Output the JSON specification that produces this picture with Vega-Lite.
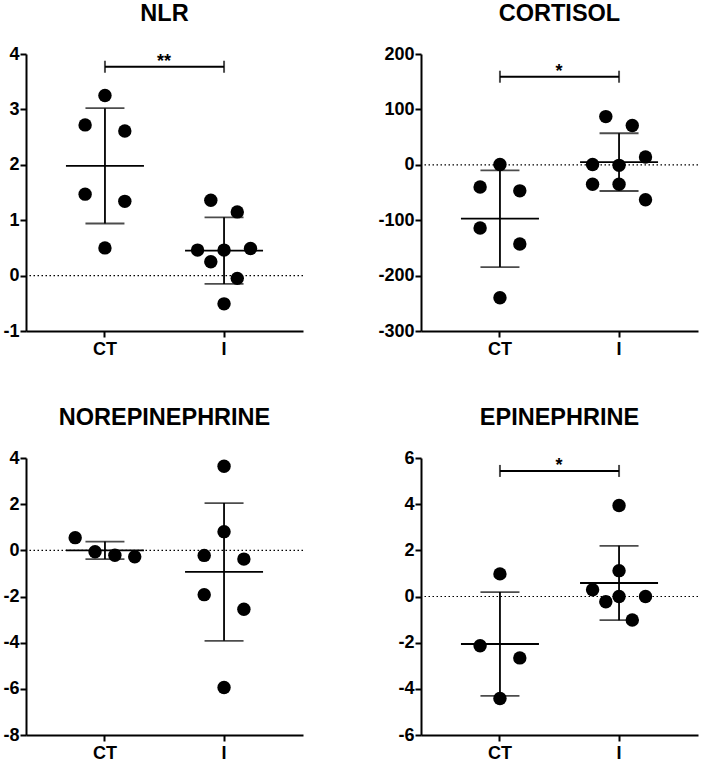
{
  "$schema": "https://vega.github.io/schema/vega-lite/v6.json",
  "padding": {"left": 2, "top": 1, "right": 5, "bottom": 5},
  "datasets": {
    "points": [
      {"panel": "NLR", "group": "CT", "value": 3.25, "slot": 0},
      {"panel": "NLR", "group": "CT", "value": 2.72, "slot": -6},
      {"panel": "NLR", "group": "CT", "value": 2.61, "slot": 6},
      {"panel": "NLR", "group": "CT", "value": 1.47, "slot": -6},
      {"panel": "NLR", "group": "CT", "value": 1.34, "slot": 6},
      {"panel": "NLR", "group": "CT", "value": 0.5, "slot": 0},
      {"panel": "NLR", "group": "I", "value": 1.36, "slot": -4},
      {"panel": "NLR", "group": "I", "value": 1.15, "slot": 4},
      {"panel": "NLR", "group": "I", "value": 0.46, "slot": -8},
      {"panel": "NLR", "group": "I", "value": 0.46, "slot": 0},
      {"panel": "NLR", "group": "I", "value": 0.49, "slot": 8},
      {"panel": "NLR", "group": "I", "value": 0.25, "slot": -4},
      {"panel": "NLR", "group": "I", "value": -0.05, "slot": 4},
      {"panel": "NLR", "group": "I", "value": -0.51, "slot": 0},
      {"panel": "CORTISOL", "group": "CT", "value": 0.5, "slot": 0},
      {"panel": "CORTISOL", "group": "CT", "value": -40, "slot": -6},
      {"panel": "CORTISOL", "group": "CT", "value": -47, "slot": 6},
      {"panel": "CORTISOL", "group": "CT", "value": -114, "slot": -6},
      {"panel": "CORTISOL", "group": "CT", "value": -143, "slot": 6},
      {"panel": "CORTISOL", "group": "CT", "value": -240, "slot": 0},
      {"panel": "CORTISOL", "group": "I", "value": 87, "slot": -4},
      {"panel": "CORTISOL", "group": "I", "value": 71, "slot": 4},
      {"panel": "CORTISOL", "group": "I", "value": 0.6, "slot": -8},
      {"panel": "CORTISOL", "group": "I", "value": -1, "slot": 0},
      {"panel": "CORTISOL", "group": "I", "value": 14, "slot": 8},
      {"panel": "CORTISOL", "group": "I", "value": -35, "slot": -8},
      {"panel": "CORTISOL", "group": "I", "value": -35, "slot": 0},
      {"panel": "CORTISOL", "group": "I", "value": -63, "slot": 8},
      {"panel": "NOREPINEPHRINE", "group": "CT", "value": 0.55, "slot": -9},
      {"panel": "NOREPINEPHRINE", "group": "CT", "value": -0.06, "slot": -3},
      {"panel": "NOREPINEPHRINE", "group": "CT", "value": -0.21, "slot": 3},
      {"panel": "NOREPINEPHRINE", "group": "CT", "value": -0.28, "slot": 9},
      {"panel": "NOREPINEPHRINE", "group": "I", "value": 3.64, "slot": 0},
      {"panel": "NOREPINEPHRINE", "group": "I", "value": 0.81, "slot": 0},
      {"panel": "NOREPINEPHRINE", "group": "I", "value": -0.22, "slot": -6},
      {"panel": "NOREPINEPHRINE", "group": "I", "value": -0.38, "slot": 6},
      {"panel": "NOREPINEPHRINE", "group": "I", "value": -1.92, "slot": -6},
      {"panel": "NOREPINEPHRINE", "group": "I", "value": -2.55, "slot": 6},
      {"panel": "NOREPINEPHRINE", "group": "I", "value": -5.94, "slot": 0},
      {"panel": "EPINEPHRINE", "group": "CT", "value": 0.98, "slot": 0},
      {"panel": "EPINEPHRINE", "group": "CT", "value": -2.13, "slot": -6},
      {"panel": "EPINEPHRINE", "group": "CT", "value": -2.66, "slot": 6},
      {"panel": "EPINEPHRINE", "group": "CT", "value": -4.42, "slot": 0},
      {"panel": "EPINEPHRINE", "group": "I", "value": 3.94, "slot": 0},
      {"panel": "EPINEPHRINE", "group": "I", "value": 1.12, "slot": 0},
      {"panel": "EPINEPHRINE", "group": "I", "value": 0.29, "slot": -8},
      {"panel": "EPINEPHRINE", "group": "I", "value": -0.23, "slot": -4},
      {"panel": "EPINEPHRINE", "group": "I", "value": 0.0, "slot": 0},
      {"panel": "EPINEPHRINE", "group": "I", "value": 0.0, "slot": 8},
      {"panel": "EPINEPHRINE", "group": "I", "value": -1.02, "slot": 4}
    ],
    "brackets": [
      {"panel": "NLR", "from": "CT", "to": "I", "y": 3.77, "label": "**"},
      {"panel": "CORTISOL", "from": "CT", "to": "I", "y": 159, "label": "*"},
      {"panel": "EPINEPHRINE", "from": "CT", "to": "I", "y": 5.44, "label": "*"}
    ],
    "ref": [{"ref": 0}]
  },
  "config": {
    "view": {"stroke": null},
    "font": "Liberation Sans",
    "title": {"font": "Liberation Sans", "fontSize": 23.5, "fontWeight": "bold", "color": "black", "frame": "group", "anchor": "middle", "offset": 20},
    "axis": {
      "grid": false, "title": null,
      "domainColor": "black", "domainWidth": 2,
      "tickColor": "black", "tickWidth": 2, "tickSize": 6,
      "labelFont": "Liberation Sans", "labelFontWeight": "bold", "labelFontSize": 18, "labelColor": "black"
    },
    "axisX": {"labelAngle": 0, "labelPadding": 3},
    "axisY": {"labelPadding": 1, "labelExpr": "datum.value < 0 ? '-' + abs(datum.value) : '' + datum.value"}
  },
  "columns": 2,
  "spacing": {"column": 73, "row": 47},
  "concat": [
    {
      "title": "NLR",
      "width": 277, "height": 277,
      "layer": [
        {
          "data": {"name": "ref"},
          "mark": {"type": "rule", "strokeDash": [1.5, 2.5], "strokeWidth": 1.2, "color": "black"},
          "encoding": {"y": {"field": "ref", "type": "quantitative", "title": null}}
        },
        {
          "data": {"name": "points"},
          "transform": [{"filter": "datum.panel == 'NLR'"}],
          "mark": {"type": "errorbar", "extent": "stdev", "ticks": {"size": 39}, "thickness": 1.8, "color": "black"},
          "encoding": {
            "x": {"field": "group", "type": "nominal", "title": null, "scale": {"domain": ["CT", "I"], "paddingInner": 0, "paddingOuter": 0.163}},
            "y": {"field": "value", "type": "quantitative", "title": null, "scale": {"domain": [-1, 4], "nice": false, "zero": false}, "axis": {"values": [-1, 0, 1, 2, 3, 4]}}
          }
        },
        {
          "data": {"name": "points"},
          "transform": [{"filter": "datum.panel == 'NLR'"}],
          "mark": {"type": "tick", "size": 78, "thickness": 1.8, "color": "black"},
          "encoding": {
            "x": {"field": "group", "type": "nominal", "title": null},
            "y": {"aggregate": "mean", "field": "value", "type": "quantitative", "title": null}
          }
        },
        {
          "data": {"name": "points"},
          "transform": [{"filter": "datum.panel == 'NLR'"}],
          "mark": {"type": "circle", "size": 180, "opacity": 1, "color": "black"},
          "encoding": {
            "x": {"field": "group", "type": "nominal", "title": null},
            "xOffset": {"field": "slot", "type": "quantitative", "scale": {"domain": [-18, 18]}},
            "y": {"field": "value", "type": "quantitative", "title": null}
          }
        },
        {
          "data": {"name": "brackets"},
          "transform": [{"filter": "datum.panel == 'NLR'"}],
          "mark": {"type": "rule", "strokeWidth": 2, "color": "black"},
          "encoding": {
            "x": {"field": "from", "type": "nominal", "title": null},
            "x2": {"field": "to"},
            "y": {"field": "y", "type": "quantitative", "title": null}
          }
        },
        {
          "data": {"name": "brackets"},
          "transform": [{"filter": "datum.panel == 'NLR'"}],
          "mark": {"type": "tick", "orient": "vertical", "size": 12, "thickness": 2, "color": "black"},
          "encoding": {"x": {"field": "from", "type": "nominal", "title": null}, "y": {"field": "y", "type": "quantitative", "title": null}}
        },
        {
          "data": {"name": "brackets"},
          "transform": [{"filter": "datum.panel == 'NLR'"}],
          "mark": {"type": "tick", "orient": "vertical", "size": 12, "thickness": 2, "color": "black"},
          "encoding": {"x": {"field": "to", "type": "nominal", "title": null}, "y": {"field": "y", "type": "quantitative", "title": null}}
        },
        {
          "data": {"name": "brackets"},
          "transform": [{"filter": "datum.panel == 'NLR'"}],
          "mark": {"type": "text", "dx": 59, "dy": 0, "baseline": "alphabetic", "fontSize": 18, "fontWeight": "bold", "color": "black"},
          "encoding": {"x": {"field": "from", "type": "nominal", "title": null}, "y": {"field": "y", "type": "quantitative", "title": null}, "text": {"field": "label"}}
        }
      ]
    },
    {
      "title": "CORTISOL",
      "width": 277, "height": 277,
      "layer": [
        {
          "data": {"name": "ref"},
          "mark": {"type": "rule", "strokeDash": [1.5, 2.5], "strokeWidth": 1.2, "color": "black"},
          "encoding": {"y": {"field": "ref", "type": "quantitative", "title": null}}
        },
        {
          "data": {"name": "points"},
          "transform": [{"filter": "datum.panel == 'CORTISOL'"}],
          "mark": {"type": "errorbar", "extent": "stdev", "ticks": {"size": 39}, "thickness": 1.8, "color": "black"},
          "encoding": {
            "x": {"field": "group", "type": "nominal", "title": null, "scale": {"domain": ["CT", "I"], "paddingInner": 0, "paddingOuter": 0.163}},
            "y": {"field": "value", "type": "quantitative", "title": null, "scale": {"domain": [-300, 200], "nice": false, "zero": false}, "axis": {"values": [-300, -200, -100, 0, 100, 200]}}
          }
        },
        {
          "data": {"name": "points"},
          "transform": [{"filter": "datum.panel == 'CORTISOL'"}],
          "mark": {"type": "tick", "size": 78, "thickness": 1.8, "color": "black"},
          "encoding": {
            "x": {"field": "group", "type": "nominal", "title": null},
            "y": {"aggregate": "mean", "field": "value", "type": "quantitative", "title": null}
          }
        },
        {
          "data": {"name": "points"},
          "transform": [{"filter": "datum.panel == 'CORTISOL'"}],
          "mark": {"type": "circle", "size": 180, "opacity": 1, "color": "black"},
          "encoding": {
            "x": {"field": "group", "type": "nominal", "title": null},
            "xOffset": {"field": "slot", "type": "quantitative", "scale": {"domain": [-18, 18]}},
            "y": {"field": "value", "type": "quantitative", "title": null}
          }
        },
        {
          "data": {"name": "brackets"},
          "transform": [{"filter": "datum.panel == 'CORTISOL'"}],
          "mark": {"type": "rule", "strokeWidth": 2, "color": "black"},
          "encoding": {
            "x": {"field": "from", "type": "nominal", "title": null},
            "x2": {"field": "to"},
            "y": {"field": "y", "type": "quantitative", "title": null}
          }
        },
        {
          "data": {"name": "brackets"},
          "transform": [{"filter": "datum.panel == 'CORTISOL'"}],
          "mark": {"type": "tick", "orient": "vertical", "size": 12, "thickness": 2, "color": "black"},
          "encoding": {"x": {"field": "from", "type": "nominal", "title": null}, "y": {"field": "y", "type": "quantitative", "title": null}}
        },
        {
          "data": {"name": "brackets"},
          "transform": [{"filter": "datum.panel == 'CORTISOL'"}],
          "mark": {"type": "tick", "orient": "vertical", "size": 12, "thickness": 2, "color": "black"},
          "encoding": {"x": {"field": "to", "type": "nominal", "title": null}, "y": {"field": "y", "type": "quantitative", "title": null}}
        },
        {
          "data": {"name": "brackets"},
          "transform": [{"filter": "datum.panel == 'CORTISOL'"}],
          "mark": {"type": "text", "dx": 59, "dy": 0, "baseline": "alphabetic", "fontSize": 18, "fontWeight": "bold", "color": "black"},
          "encoding": {"x": {"field": "from", "type": "nominal", "title": null}, "y": {"field": "y", "type": "quantitative", "title": null}, "text": {"field": "label"}}
        }
      ]
    },
    {
      "title": "NOREPINEPHRINE",
      "width": 277, "height": 277,
      "layer": [
        {
          "data": {"name": "ref"},
          "mark": {"type": "rule", "strokeDash": [1.5, 2.5], "strokeWidth": 1.2, "color": "black"},
          "encoding": {"y": {"field": "ref", "type": "quantitative", "title": null}}
        },
        {
          "data": {"name": "points"},
          "transform": [{"filter": "datum.panel == 'NOREPINEPHRINE'"}],
          "mark": {"type": "errorbar", "extent": "stdev", "ticks": {"size": 39}, "thickness": 1.8, "color": "black"},
          "encoding": {
            "x": {"field": "group", "type": "nominal", "title": null, "scale": {"domain": ["CT", "I"], "paddingInner": 0, "paddingOuter": 0.163}},
            "y": {"field": "value", "type": "quantitative", "title": null, "scale": {"domain": [-8, 4], "nice": false, "zero": false}, "axis": {"values": [-8, -6, -4, -2, 0, 2, 4]}}
          }
        },
        {
          "data": {"name": "points"},
          "transform": [{"filter": "datum.panel == 'NOREPINEPHRINE'"}],
          "mark": {"type": "tick", "size": 78, "thickness": 1.8, "color": "black"},
          "encoding": {
            "x": {"field": "group", "type": "nominal", "title": null},
            "y": {"aggregate": "mean", "field": "value", "type": "quantitative", "title": null}
          }
        },
        {
          "data": {"name": "points"},
          "transform": [{"filter": "datum.panel == 'NOREPINEPHRINE'"}],
          "mark": {"type": "circle", "size": 180, "opacity": 1, "color": "black"},
          "encoding": {
            "x": {"field": "group", "type": "nominal", "title": null},
            "xOffset": {"field": "slot", "type": "quantitative", "scale": {"domain": [-18, 18]}},
            "y": {"field": "value", "type": "quantitative", "title": null}
          }
        }
      ]
    },
    {
      "title": "EPINEPHRINE",
      "width": 277, "height": 277,
      "layer": [
        {
          "data": {"name": "ref"},
          "mark": {"type": "rule", "strokeDash": [1.5, 2.5], "strokeWidth": 1.2, "color": "black"},
          "encoding": {"y": {"field": "ref", "type": "quantitative", "title": null}}
        },
        {
          "data": {"name": "points"},
          "transform": [{"filter": "datum.panel == 'EPINEPHRINE'"}],
          "mark": {"type": "errorbar", "extent": "stdev", "ticks": {"size": 39}, "thickness": 1.8, "color": "black"},
          "encoding": {
            "x": {"field": "group", "type": "nominal", "title": null, "scale": {"domain": ["CT", "I"], "paddingInner": 0, "paddingOuter": 0.163}},
            "y": {"field": "value", "type": "quantitative", "title": null, "scale": {"domain": [-6, 6], "nice": false, "zero": false}, "axis": {"values": [-6, -4, -2, 0, 2, 4, 6]}}
          }
        },
        {
          "data": {"name": "points"},
          "transform": [{"filter": "datum.panel == 'EPINEPHRINE'"}],
          "mark": {"type": "tick", "size": 78, "thickness": 1.8, "color": "black"},
          "encoding": {
            "x": {"field": "group", "type": "nominal", "title": null},
            "y": {"aggregate": "mean", "field": "value", "type": "quantitative", "title": null}
          }
        },
        {
          "data": {"name": "points"},
          "transform": [{"filter": "datum.panel == 'EPINEPHRINE'"}],
          "mark": {"type": "circle", "size": 180, "opacity": 1, "color": "black"},
          "encoding": {
            "x": {"field": "group", "type": "nominal", "title": null},
            "xOffset": {"field": "slot", "type": "quantitative", "scale": {"domain": [-18, 18]}},
            "y": {"field": "value", "type": "quantitative", "title": null}
          }
        },
        {
          "data": {"name": "brackets"},
          "transform": [{"filter": "datum.panel == 'EPINEPHRINE'"}],
          "mark": {"type": "rule", "strokeWidth": 2, "color": "black"},
          "encoding": {
            "x": {"field": "from", "type": "nominal", "title": null},
            "x2": {"field": "to"},
            "y": {"field": "y", "type": "quantitative", "title": null}
          }
        },
        {
          "data": {"name": "brackets"},
          "transform": [{"filter": "datum.panel == 'EPINEPHRINE'"}],
          "mark": {"type": "tick", "orient": "vertical", "size": 12, "thickness": 2, "color": "black"},
          "encoding": {"x": {"field": "from", "type": "nominal", "title": null}, "y": {"field": "y", "type": "quantitative", "title": null}}
        },
        {
          "data": {"name": "brackets"},
          "transform": [{"filter": "datum.panel == 'EPINEPHRINE'"}],
          "mark": {"type": "tick", "orient": "vertical", "size": 12, "thickness": 2, "color": "black"},
          "encoding": {"x": {"field": "to", "type": "nominal", "title": null}, "y": {"field": "y", "type": "quantitative", "title": null}}
        },
        {
          "data": {"name": "brackets"},
          "transform": [{"filter": "datum.panel == 'EPINEPHRINE'"}],
          "mark": {"type": "text", "dx": 59, "dy": 0, "baseline": "alphabetic", "fontSize": 18, "fontWeight": "bold", "color": "black"},
          "encoding": {"x": {"field": "from", "type": "nominal", "title": null}, "y": {"field": "y", "type": "quantitative", "title": null}, "text": {"field": "label"}}
        }
      ]
    }
  ]
}
